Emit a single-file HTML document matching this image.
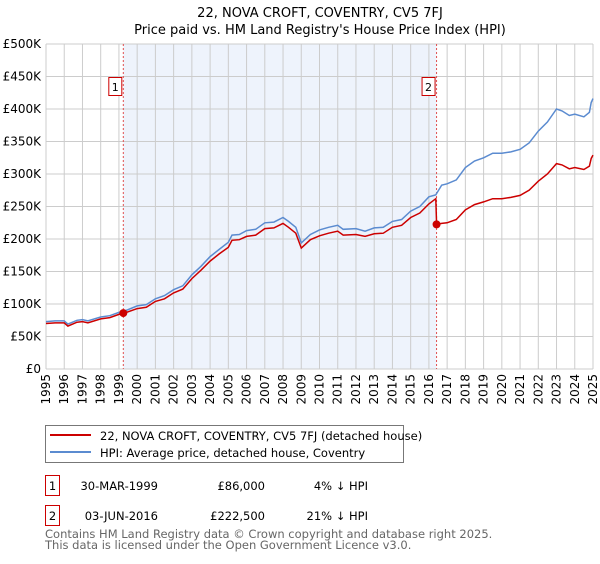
<!DOCTYPE html>
<html><head><meta charset="utf-8"><style>
body{margin:0;background:#fff;font-family:"DejaVu Sans","Liberation Sans",sans-serif;}
svg text{font-family:"DejaVu Sans","Liberation Sans",sans-serif;}
</style></head><body>
<svg id="chart" width="600" height="560" xmlns="http://www.w3.org/2000/svg">
<text x="320" y="17" font-size="13" text-anchor="middle">22, NOVA CROFT, COVENTRY, CV5 7FJ</text>
<text x="320" y="34" font-size="13" text-anchor="middle">Price paid vs. HM Land Registry's House Price Index (HPI)</text>
<g id="plot"></g>
<g>
<rect x="45.5" y="425.5" width="358" height="37" fill="#fff" stroke="#777"/>
<line x1="50" y1="435" x2="91" y2="435" stroke="#cc0000" stroke-width="2"/>
<text x="100" y="440" font-size="11.5">22, NOVA CROFT, COVENTRY, CV5 7FJ (detached house)</text>
<line x1="50" y1="452" x2="91" y2="452" stroke="#5b8bd0" stroke-width="2"/>
<text x="100" y="457" font-size="11.5">HPI: Average price, detached house, Coventry</text>
</g>
<g font-size="11.5">
<rect x="45.5" y="475.5" width="14" height="20" fill="none" stroke="#cc0000"/>
<text x="52.5" y="490" text-anchor="middle">1</text>
<text x="158" y="490" text-anchor="end">30-MAR-1999</text>
<text x="265" y="490" text-anchor="end">£86,000</text>
<text x="368" y="490" text-anchor="end">4% ↓ HPI</text>
<rect x="45.5" y="505.5" width="14" height="20" fill="none" stroke="#cc0000"/>
<text x="52.5" y="520" text-anchor="middle">2</text>
<text x="158" y="520" text-anchor="end">03-JUN-2016</text>
<text x="265" y="520" text-anchor="end">£222,500</text>
<text x="368" y="520" text-anchor="end">21% ↓ HPI</text>
</g>
<text x="45" y="538" font-size="11.5" fill="#666">Contains HM Land Registry data © Crown copyright and database right 2025.</text>
<text x="45" y="549" font-size="11.5" fill="#666">This data is licensed under the Open Government Licence v3.0.</text>
</svg>
<script>
const dates=[1995,1995.5,1996,1996.2,1996.7,1997,1997.3,1998,1998.5,1999,1999.3,2000,2000.5,2001,2001.5,2002,2002.5,2003,2003.5,2004,2004.5,2005,2005.2,2005.6,2006,2006.5,2007,2007.5,2008,2008.3,2008.7,2009,2009.5,2010,2010.5,2011,2011.3,2012,2012.5,2013,2013.5,2014,2014.5,2015,2015.5,2016,2016.38,2016.42,2016.7,2017,2017.5,2018,2018.5,2019,2019.5,2020,2020.5,2021,2021.5,2022,2022.5,2023,2023.3,2023.7,2024,2024.5,2024.8,2024.9,2025];
const hpi=[73,74,74,69,75,76,74,80,82,87,89,97,99,108,113,122,128,145,158,173,184,195,206,207,213,215,225,226,233,227,218,194,207,214,218,221,215,216,212,217,218,227,230,243,250,265,268,270,283,285,291,310,320,325,332,332,334,338,348,366,380,400,397,390,392,388,395,410,416];
const price=[70,71,71,66,72,73,71,77,79,84,86,93,95,104,108,117,123,139,152,166,177,187,198,199,204,206,216,217,224,218,209,186,199,205,209,212,206,207,204,208,209,218,221,233,240,254,262,222.5,224,225,230,245,253,257,262,262,264,267,275,289,300,316,314,308,310,307,312,324,329];
const yTicks=[0,50,100,150,200,250,300,350,400,450,500];
const yLabels=["£0","£50K","£100K","£150K","£200K","£250K","£300K","£350K","£400K","£450K","£500K"];
const xYears=[1995,1996,1997,1998,1999,2000,2001,2002,2003,2004,2005,2006,2007,2008,2009,2010,2011,2012,2013,2014,2015,2016,2017,2018,2019,2020,2021,2022,2023,2024,2025];
const saleDates=[1999.24,2016.42];
const salePrices=[86,222.5];
const saleLabels=["1","2"];
const NS="http://www.w3.org/2000/svg";
const L=46,R=593,T=44,B=369;
const xs=d=>L+(d-1995)/30*(R-L);
const ys=v=>B-v/500*(B-T);
const g=document.getElementById('plot');
function mk(tag,attrs){const e=document.createElementNS(NS,tag);for(const k in attrs)e.setAttribute(k,attrs[k]);g.appendChild(e);return e;}
const bg=mk('rect',{x:xs(saleDates[0]),y:T,width:xs(saleDates[1])-xs(saleDates[0]),height:B-T,fill:'#eef3fc'});


yTicks.forEach((v,i)=>{
 const l=mk('line',{x1:L,x2:R,y1:ys(v),y2:ys(v),stroke:'#ccc'});
 
 
 const t=mk('text',{x:L-5,y:ys(v)+4,'font-size':12,'text-anchor':'end'});
 t.textContent=yLabels[i];
 
 
});
xYears.forEach(y=>{
 const l=mk('line',{x1:xs(y),x2:xs(y),y1:T,y2:B,stroke:'#ccc'});
 
 
 const t=mk('text',{x:0,y:0,'font-size':12,'text-anchor':'end',transform:`translate(${xs(y)+4},${B+5}) rotate(-90)`});
 t.textContent=y;
 
 
});
saleDates.forEach((d,i)=>{
 const l=mk('line',{x1:xs(d),x2:xs(d),y1:T,y2:B,stroke:'#e05050','stroke-dasharray':'2,2'});
 
 
 const r=mk('rect',{x:xs(d)-14.5,y:77.5,width:13,height:18,fill:'#fff',stroke:'#cc0000'});
 
 
 const t=mk('text',{x:xs(d)-8,y:91,'font-size':11,'text-anchor':'middle'});
 t.textContent=saleLabels[i];
 
 
});
const pts=a=>a.map((v,i)=>xs(dates[i]).toFixed(1)+','+ys(v).toFixed(1)).join(' ');
const hl=mk('polyline',{points:pts(hpi),fill:'none',stroke:'#5b8bd0','stroke-width':1.5});


const pl=mk('polyline',{points:pts(price),fill:'none',stroke:'#cc0000','stroke-width':1.5});


saleDates.forEach((d,i)=>{
 const c=mk('circle',{cx:xs(d),cy:ys(salePrices[i]),r:4,fill:'#cc0000'});
 
 
});
</script>
</body></html>
